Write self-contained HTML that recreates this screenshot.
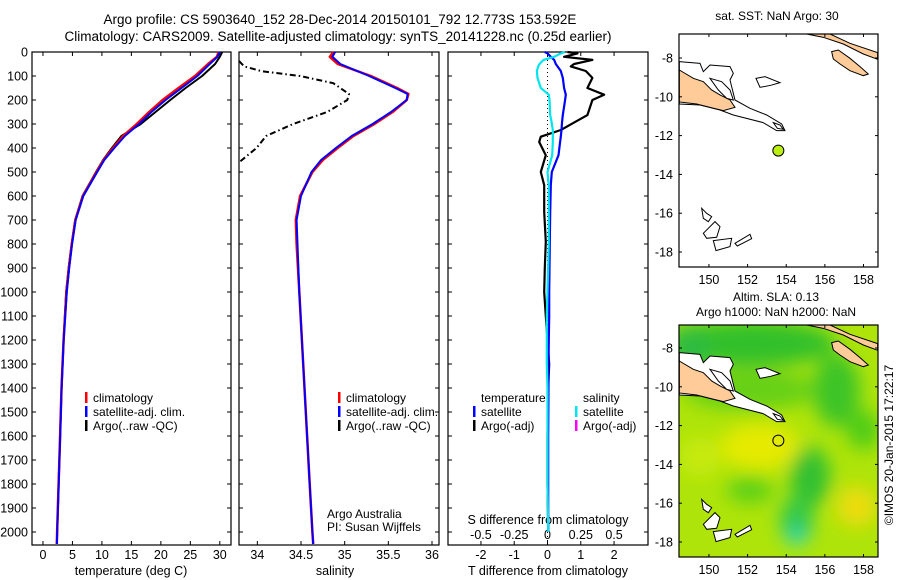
<!DOCTYPE html>
<html><head><meta charset="utf-8"><style>
html,body{margin:0;padding:0;background:#fff;}
svg{display:block;font-family:"Liberation Sans",sans-serif;}
</style></head><body>
<svg id="root" width="900" height="580" viewBox="0 0 900 580" xmlns="http://www.w3.org/2000/svg">
<rect width="900" height="580" fill="#fff"/>
<text x="340" y="24" font-size="13.5" text-anchor="middle">Argo profile: CS 5903640_152 28-Dec-2014 20150101_792 12.773S 153.592E</text>
<text x="338" y="41" font-size="13.5" text-anchor="middle">Climatology: CARS2009. Satellite-adjusted climatology: synTS_20141228.nc (0.25d earlier)</text>
<g id="p1"></g>
<g id="p2"></g>
<g id="p3"></g>
<g id="maps"></g>
</svg>
<script>
// ---- data ----
const tDepth = [0,20,50,100,150,200,250,300,350,400,450,500,600,700,800,900,1000,1200,1400,1600,1800,2000,2050];
const tClim  = [29.8,29.5,28,25.8,23,20.3,18,15.9,13.6,11.9,10.3,9.1,6.8,5.5,4.9,4.4,4.0,3.5,3.15,2.9,2.65,2.4,2.35];
const tSat   = [30,29.6,28.3,26.2,23.5,20.8,18.4,16.3,13.9,12.1,10.4,9.2,6.85,5.55,4.95,4.45,4.05,3.52,3.17,2.92,2.67,2.42,2.37];
const tArgo  = [30.4,30,29.2,27,24.2,21.6,19.1,16.6,13.3,11.7,10.2,9.0,6.7,5.45,4.85,4.35,3.92,3.5,3.17,2.9,2.65,2.42,2.37];
const sDepth = [0,20,50,100,150,175,200,250,300,350,400,450,500,600,700,800,1000,1200,1400,1600,1800,2000,2050];
const sClim  = [34.87,34.83,34.92,35.3,35.6,35.73,35.71,35.55,35.34,35.1,34.92,34.75,34.63,34.49,34.44,34.45,34.48,34.51,34.54,34.57,34.6,34.63,34.64];
const sSat   = [34.89,34.86,34.95,35.28,35.58,35.72,35.71,35.53,35.32,35.08,34.9,34.73,34.62,34.5,34.45,34.46,34.48,34.51,34.54,34.57,34.6,34.63,34.64];
const sArgoDepth = [37,60,80,100,130,175,200,250,300,350,400,460];
const sArgo  = [33.79,33.85,34.05,34.49,34.87,35.05,35.03,34.8,34.41,34.1,33.99,33.79];
const dDepth = [0,6,20,33,50,60,79,108,150,178,200,263,290,325,353,375,430,500,555,667,790,900,1000,1100,1200,1300,1400,1600,1800,2000];
const tArgoDiff = [0.6,0.9,0.5,1.35,0.8,0.7,1.15,1.35,1.2,1.7,1.35,1.2,0.85,0.4,-0.2,-0.25,-0.05,-0.2,-0.1,-0.1,-0.05,-0.08,-0.1,-0.05,0,0.05,0.02,0,0,0.02];
const tSatDiff  = [-0.08,0,0.1,0.2,0.25,0.3,0.4,0.46,0.5,0.55,0.53,0.46,0.44,0.42,0.4,0.38,0.33,0.13,0.1,0.08,0.07,0.06,0.05,0.05,0.04,0.03,0.03,0.02,0.02,0.02];
const sSatDiff  = [0.13,0.1,0.05,-0.03,-0.06,-0.07,-0.08,-0.075,-0.05,0.01,0.015,0.02,0.03,0.04,0.04,0.04,0.035,0,0.01,0.01,0.01,0.005,0,-0.005,-0.005,-0.005,0,0,0,0.005];
const depthTicks = [0,100,200,300,400,500,600,700,800,900,1000,1100,1200,1300,1400,1500,1600,1700,1800,1900,2000];
const tTicks = [0,5,10,15,20,25,30];
const sTicks = [34,34.5,35,35.5,36];
const sTickLabels = ["34","34.5","35","35.5","36"];
const dTTicks = [-2,-1,0,1,2];
const dSTicks = [-0.5,-0.25,0,0.25,0.5];
const argoLon = 153.592, argoLat = -12.773;
const lonTicks = [150,152,154,156,158];
const latTicks = [-8,-10,-12,-14,-16,-18];

const NS="http://www.w3.org/2000/svg";
function mk(tag,attrs,parent,txt){const e=document.createElementNS(NS,tag);for(const k in attrs)e.setAttribute(k,attrs[k]);if(txt!==undefined)e.textContent=txt;parent.appendChild(e);return e;}
const TOP=52, BOT=545;
const yD = d => TOP + d*0.24;
const LBL=559, TTL=575;

function panel(g,x0,x1,xv0,xv1){
  const sx = v => x0 + (v-xv0)/(xv1-xv0)*(x1-x0);
  const r=mk('rect',{x:x0,y:TOP,width:x1-x0,height:BOT-TOP,fill:'none',stroke:'#000','stroke-width':1.2},g);
  
  
  depthTicks.forEach(d=>{
    mk('line',{x1:x0,x2:x0+4,y1:yD(d),y2:yD(d),stroke:'#000'},g);
    mk('line',{x1:x1,x2:x1-4,y1:yD(d),y2:yD(d),stroke:'#000'},g);
  });
  return sx;
}
function line(g,xs,ds,sx,color,w,name,dash){
  const pts=xs.map((v,i)=>sx(v).toFixed(1)+','+yD(ds[i]).toFixed(1)).join(' ');
  const p=mk('polyline',{points:pts,fill:'none',stroke:color,'stroke-width':w,'stroke-linejoin':'round'},g);
  if(dash)p.setAttribute('stroke-dasharray',dash);
  
  
}
function legend(g,x,y,color,label,name){
  const grp=mk('g',{},g);
  
  
  mk('rect',{x:x,y:y-10,width:2.5,height:11,fill:color},grp);
  mk('text',{x:x+8,y:y,'font-size':12},grp,label);
}

// panel 1
const g1=document.getElementById('p1');
depthTicks.forEach(d=>{const t=mk('text',{x:28,y:yD(d)+4.5,'font-size':12.5,'text-anchor':'end'},g1,String(d));
  });
const sx1=panel(g1,32,231,-1.86,31.9);
tTicks.forEach(v=>{mk('line',{x1:sx1(v),x2:sx1(v),y1:BOT,y2:BOT-4,stroke:'#000'},g1);mk('line',{x1:sx1(v),x2:sx1(v),y1:TOP,y2:TOP+4,stroke:'#000'},g1);
  const t=mk('text',{x:sx1(v),y:LBL,'font-size':12.5,'text-anchor':'middle'},g1,String(v));});
mk('text',{x:131,y:TTL,'font-size':12.5,'text-anchor':'middle',},g1,'temperature (deg C)');
line(g1,tArgo,tDepth,sx1,'#000',2,'argo-temperature-line');
line(g1,tClim,tDepth,sx1,'#f00',2.5,'climatology-temperature-line');
line(g1,tSat,tDepth,sx1,'#00f',2,'satellite-temperature-line');
legend(g1,85,402,'#f00','climatology','legend-climatology');
legend(g1,85,416,'#00f','satellite-adj. clim.','legend-satellite');
legend(g1,85,430,'#000','Argo(..raw -QC)','legend-argo');

// panel 2
const g2=document.getElementById('p2');
const sx2=panel(g2,239,439,33.79,36.08);
sTicks.forEach((v,i)=>{mk('line',{x1:sx2(v),x2:sx2(v),y1:BOT,y2:BOT-4,stroke:'#000'},g2);mk('line',{x1:sx2(v),x2:sx2(v),y1:TOP,y2:TOP+4,stroke:'#000'},g2);
  const t=mk('text',{x:sx2(v),y:LBL,'font-size':12.5,'text-anchor':'middle'},g2,sTickLabels[i]);});
mk('text',{x:335,y:TTL,'font-size':12.5,'text-anchor':'middle',},g2,'salinity');
line(g2,sArgo,sArgoDepth,sx2,'#000',2,'argo-salinity-line','6,3,1.5,3');
line(g2,sClim,sDepth,sx2,'#f00',2.5,'climatology-salinity-line');
line(g2,sSat,sDepth,sx2,'#00f',2,'satellite-salinity-line');
legend(g2,338,402,'#f00','climatology','legend-climatology-s');
legend(g2,338,416,'#00f','satellite-adj. clim.','legend-satellite-s');
legend(g2,338,430,'#000','Argo(..raw -QC)','legend-argo-s');
mk('text',{x:327,y:518,'font-size':12,},g2,'Argo Australia');
mk('text',{x:327,y:531,'font-size':12,},g2,'PI: Susan Wijffels');

// panel 3
const g3=document.getElementById('p3');
const sx3=panel(g3,448,648,-2.99,3.02);
const sxS = v => sx3(v*4);
dTTicks.forEach(v=>{mk('line',{x1:sx3(v),x2:sx3(v),y1:BOT,y2:BOT-4,stroke:'#000'},g3);
  const t=mk('text',{x:sx3(v),y:LBL,'font-size':12.5,'text-anchor':'middle'},g3,String(v));});
dSTicks.forEach(v=>{mk('line',{x1:sxS(v),x2:sxS(v),y1:TOP,y2:TOP+4,stroke:'#000'},g3);
  const t=mk('text',{x:sxS(v),y:539,'font-size':12.5,'text-anchor':'middle'},g3,String(v));});
mk('text',{x:548,y:524,'font-size':12.5,'text-anchor':'middle',},g3,'S difference from climatology');
mk('text',{x:548,y:TTL,'font-size':12.5,'text-anchor':'middle',},g3,'T difference from climatology');
mk('line',{x1:sx3(0),x2:sx3(0),y1:TOP,y2:yD(2050),stroke:'#000','stroke-dasharray':'1,3',},g3);
line(g3,tArgoDiff,dDepth,sx3,'#000',2.2,'argo-t-diff-line');
line(g3,tSatDiff,dDepth,sx3,'#00f',2.2,'satellite-t-diff-line');
line(g3,sSatDiff,dDepth,sxS,'#00e5ee',2.2,'satellite-s-diff-line');
mk('text',{x:481,y:402,'font-size':12,},g3,'temperature');
legend(g3,473,416,'#00f','satellite','legend-t-satellite');
legend(g3,473,430,'#000','Argo(-adj)','legend-t-argo');
mk('text',{x:583,y:402,'font-size':12,},g3,'salinity');
legend(g3,575,416,'#00e5ee','satellite','legend-s-satellite');
legend(g3,575,430,'#ff00ff','Argo(-adj)','legend-s-argo');

// maps
const gm=document.getElementById('maps');
const defs=mk('defs',{},gm);
const flt=mk('filter',{id:'blur',x:'-50%',y:'-50%',width:'200%',height:'200%'},defs);
mk('feGaussianBlur',{stdDeviation:28},flt);
const cp=mk('clipPath',{id:'clip2'},defs);
mk('rect',{x:88,y:105,width:595,height:695},cp);
const coast=mk('g',{id:'coast',fill:'#fff',stroke:'#000','stroke-width':3},defs);
const peach='#ffcc99';
[
 ['88,185 150,190 160,215 180,195 240,200 250,220 240,240 255,300 300,325 350,345 395,372 405,392 380,392 340,368 250,345 210,330 150,315 88,312','#fff'],
 ['88,210 130,235 160,245 185,270 210,285 240,300 255,322 220,332 180,322 140,312 88,306',peach],
 ['180,235 215,245 240,270 250,300 230,295 205,270','#fff'],
 ['318,235 345,230 390,248 362,256 330,262','#fff'],
 ['470,102 540,102 600,130 683,158 683,178 640,162 580,132 520,112',peach],
 ['545,155 565,150 600,175 630,200 655,222 640,227 600,212 570,192 550,177',peach],
 ['370,368 390,375 400,388 382,385','#fff'],
 ['155,625 170,640 185,650 175,665 160,655','#fff'],
 ['160,700 195,665 210,680 200,712 170,715','#fff'],
 ['190,722 245,715 240,740 198,752','#fff'],
 ['255,730 300,703 305,716 262,738','#fff']
].forEach(([p,f])=>mk('polygon',{points:p,fill:f},coast));

function mapFrame(g,x0,y0,x1,y1,lat8,lat18){
  const ppx=(x1-x0)/(158.75-148.45); const sx=l=>x0+(l-148.45)*ppx;
  const sy=la=>lat8+(la+8)/(-10)*(lat18-lat8);
  const r=mk('rect',{x:x0,y:y0,width:x1-x0,height:y1-y0,fill:'none',stroke:'#000','stroke-width':1.2},g);
  
  lonTicks.forEach(l=>{mk('line',{x1:sx(l),x2:sx(l),y1:y1,y2:y1-3,stroke:'#000'},g);mk('line',{x1:sx(l),x2:sx(l),y1:y0,y2:y0+3,stroke:'#000'},g);
    const t=mk('text',{x:sx(l),y:y1+17,'font-size':12.5,'text-anchor':'middle'},g,String(l));});
  latTicks.forEach(l=>{mk('line',{x1:x0,x2:x0+3,y1:sy(l),y2:sy(l),stroke:'#000'},g);mk('line',{x1:x1,x2:x1-3,y1:sy(l),y2:sy(l),stroke:'#000'},g);
    const t=mk('text',{x:x0-6,y:sy(l)+4.5,'font-size':12.5,'text-anchor':'end'},g,String(l));});
  return [sx,sy];
}
// map 1
const m1=mk('g',{},gm);


mk('text',{x:777,y:20,'font-size':12,'text-anchor':'middle'},m1,'sat. SST: NaN Argo: 30');
mk('use',{href:'#coast',transform:'translate(650,0) scale(0.3333)'},m1);
const [mx1,my1]=mapFrame(m1,679,34,878,267,58,252);
const dot1=mk('circle',{cx:mx1(argoLon),cy:my1(argoLat),r:5.5,fill:'#bbee11',stroke:'#000'},m1);

// map 2
const m2=mk('g',{},gm);


mk('text',{x:776,y:301,'font-size':12,'text-anchor':'middle'},m2,'Altim. SLA: 0.13');
mk('text',{x:776,y:316,'font-size':12,'text-anchor':'middle'},m2,'Argo h1000: NaN h2000: NaN');
const fld=mk('g',{transform:'translate(650,290) scale(0.3333)','clip-path':'url(#clip2)'},m2);
mk('rect',{x:88,y:105,width:595,height:695,fill:'#aee40a'},fld);
const blobs=mk('g',{filter:'url(#blur)'},fld);
[[300,160,260,70,'#33c02a'],[560,300,70,110,'#3cc425'],[120,180,60,80,'#2fbb40'],[300,300,200,60,'#66d018'],
 [330,470,120,70,'#e6ea05'],[480,560,60,90,'#30c030'],[440,690,50,70,'#33c84a'],[440,740,30,25,'#22d8c8'],
 [620,650,60,60,'#eedc08'],[300,600,70,40,'#5cd018'],[150,500,60,60,'#c8ea08'],[640,420,50,60,'#50cc18']
].forEach(b=>mk('ellipse',{cx:b[0],cy:b[1],rx:b[2],ry:b[3],fill:b[4]},blobs));
mk('use',{href:'#coast',transform:'translate(650,291) scale(0.3333)'},m2);
const [mx2,my2]=mapFrame(m2,679,325,878,557,348,542);
const dot2=mk('circle',{cx:mx2(argoLon),cy:my2(argoLat),r:5.5,fill:'none',stroke:'#000'},m2);

mk('text',{x:0,y:0,'font-size':12,'text-anchor':'middle',transform:'translate(893,445) rotate(-90)',},gm,'©IMOS 20-Jan-2015 17:22:17');
</script>
</body></html>
